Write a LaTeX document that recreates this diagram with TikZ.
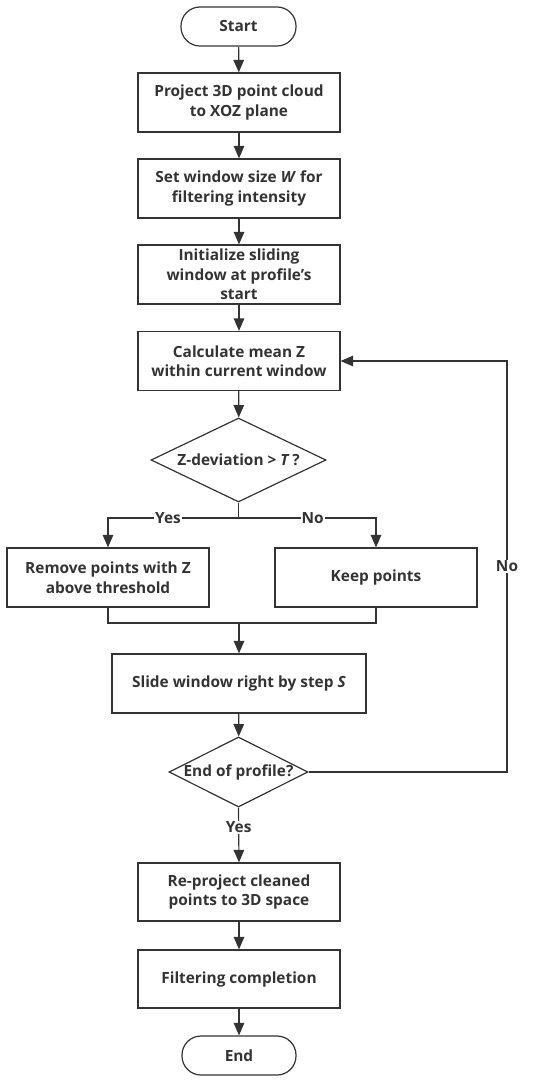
\documentclass[tikz,border=0pt]{standalone}
\usepackage{fontspec}
\setmainfont{Open Sans}[BoldFont={* Bold},ItalicFont={* Italic},BoldItalicFont={* Bold Italic}]
\usetikzlibrary{shapes.geometric,arrows.meta,calc}
\definecolor{ink}{HTML}{333333}
\tikzset{
  base/.style={draw=ink, line width=1.2pt, text=ink, font=\fontsize{15.4}{19.5}\selectfont\bfseries, align=center, inner sep=0pt},
  proc/.style={base, rectangle, minimum width=202pt, minimum height=59pt},
  term/.style={base, rectangle, rounded corners=19pt, minimum width=115pt, minimum height=39pt},
  dec/.style={draw=ink, line width=1.2pt, diamond, inner sep=0pt},
  arr/.style={draw=ink, line width=1.2pt, -{Triangle[length=12.5pt,width=10.5pt]}},
  ln/.style={draw=ink, line width=1.2pt},
  lbl/.style={fill=white, text=ink, font=\fontsize{15.4}{18}\selectfont\bfseries, inner sep=1pt}
}
\begin{document}
\begin{tikzpicture}[x=1pt,y=-1pt]
\useasboundingbox (0,0) rectangle (550,1083);
\node[term] (start) at (238.5,26.5) {Start};
\node[proc] (b1) at (239,102.5) {Project 3D point cloud\\to XOZ plane};
\node[proc] (b2) at (239,188.5) {Set window size \textit{W} for\\filtering intensity};
\node[proc] (b3) at (239,274.5) {Initialize sliding\\window at profile's\\start};
\node[proc] (b4) at (239,361) {Calculate mean Z\\within current window};
\node[dec, minimum width=175pt, minimum height=84pt, label={[base,draw=none]center:Z-deviation > \textit{T}\,?}] (d1) at (238.5,460) {};
\node[proc] (rm) at (108,577.5) {Remove points with Z\\above threshold};
\node[proc] (kp) at (376,577.5) {Keep points};
\node[proc, minimum width=254pt] (sl) at (239,683.5) {Slide window right by step \textit{S}};
\node[dec, minimum width=139pt, minimum height=70pt, label={[base,draw=none]center:End of profile?}] (d2) at (238.5,772) {};
\node[proc, minimum height=58pt] (rp) at (239,892) {Re-project cleaned\\points to 3D space};
\node[proc, minimum height=58pt] (fc) at (239,979) {Filtering completion};
\node[term, minimum width=114pt] (end) at (239,1055.5) {End};

\coordinate (split) at (238.5,518);
\coordinate (merge) at (239,623);
\coordinate (loop) at (507,772);

\draw[arr] (start) -- (b1);
\draw[arr] (b1) -- (b2);
\draw[arr] (b2) -- (b3);
\draw[arr] (b3) -- (b4);
\draw[arr] (b4) -- (d1);
\draw[ln] (d1.south) -- (split);
\draw[arr] (split) -| node[lbl, pos=0.27] {Yes} (rm.north);
\draw[arr] (split) -| node[lbl, pos=0.27] {No} (kp.north);
\draw[ln] (rm.south) |- (merge) -| (kp.south);
\draw[arr] (merge) -- (sl.north);
\draw[arr] (sl) -- (d2);
\draw[arr] (d2.east) -- (loop) |- node[lbl, pos=0.25] {No} (b4.east);
\draw[arr] (d2.south) -- node[lbl, pos=0.36] {Yes} (rp.north);
\draw[arr] (rp) -- (fc);
\draw[arr] (fc) -- (end);
\end{tikzpicture}
\end{document}
